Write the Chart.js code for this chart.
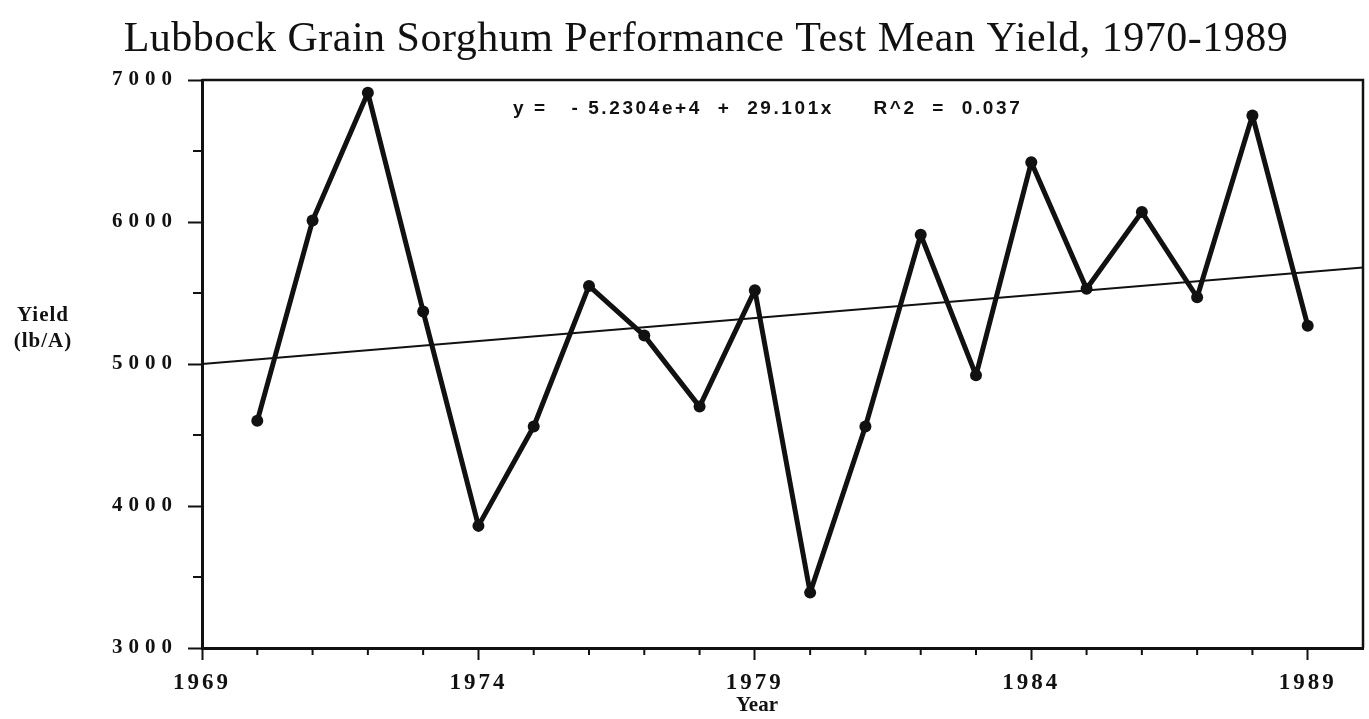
<!DOCTYPE html>
<html>
<head>
<meta charset="utf-8">
<title>Lubbock Grain Sorghum Yield</title>
<script src="https://cdn.jsdelivr.net/npm/chart.js@4.4.0/dist/chart.umd.min.js"></script>
<style>
  html, body { margin: 0; padding: 0; background: #fff; }
  canvas { display: block; }
</style>
</head>
<body>
<canvas id="yieldChart" width="1369" height="719"></canvas>
<script>
// values (lb/A)
const years = [1970, 1971, 1972, 1973, 1974, 1975, 1976, 1977, 1978, 1979,
               1980, 1981, 1982, 1983, 1984, 1985, 1986, 1987, 1988, 1989];
const yields = [4600, 6010, 6910, 5370, 3860, 4560, 5550, 5200, 4700, 5520,
                3390, 4560, 5910, 4920, 6420, 5530, 6070, 5470, 6750, 5270];

// fitted line as drawn, end points at the axis limits
const trendYears = [1969, 1990];
const trendYields = [5000, 5680];

const xTickYears = [1969, 1974, 1979, 1984, 1989];
const yTickValues = [3000, 4000, 5000, 6000, 7000];

const titleText = 'Lubbock Grain Sorghum Performance Test Mean Yield, 1970-1989';
const equationText = 'y =   - 5.2304e+4  +  29.101x     R^2  =  0.037';

const ink = '#111';
const serif = '"Liberation Serif", "Times New Roman", serif';

// canvas letterSpacing for the widely spaced tick numbers
const spacedTicks = {
    id: 'spacedTicks',
    beforeDraw(chart) {
        Object.values(chart.scales).forEach(scale => {
            if (scale._spaced) return;
            const orig = scale.drawLabels.bind(scale);
            const spacing = scale.axis === 'y' ? '6px' : '3px';
            scale.drawLabels = function (area) {
                this.ctx.save();
                this.ctx.letterSpacing = spacing;
                orig(area);
                this.ctx.restore();
            };
            scale._spaced = true;
        });
    }
};

// frame, minor ticks and the loose texts of the figure
const decorations = {
    id: 'decorations',
    afterDraw(chart) {
        const { ctx, chartArea: a, scales: { x, y } } = chart;
        ctx.save();
        ctx.strokeStyle = ink;
        ctx.fillStyle = ink;

        ctx.lineWidth = 2.5;
        ctx.beginPath();
        ctx.moveTo(a.left, a.top);
        ctx.lineTo(a.right, a.top);
        ctx.lineTo(a.right, a.bottom);
        ctx.stroke();

        ctx.lineWidth = 2;
        ctx.beginPath();
        for (let yr = x.min + 1; yr < x.max; yr++) {
            if (xTickYears.includes(yr)) continue;
            const px = x.getPixelForValue(yr);
            ctx.moveTo(px, a.bottom);
            ctx.lineTo(px, a.bottom + 7);
        }
        for (let v = y.min + 500; v < y.max; v += 1000) {
            const py = y.getPixelForValue(v);
            ctx.moveTo(a.left - 9, py);
            ctx.lineTo(a.left, py);
        }
        ctx.stroke();

        ctx.textBaseline = 'middle';
        ctx.textAlign = 'center';
        ctx.font = '42px ' + serif;
        ctx.letterSpacing = '0.5px';
        ctx.fillText(titleText, 706, 40);

        ctx.font = 'bold 21px ' + serif;
        ctx.letterSpacing = '1px';
        ctx.fillText('Yield', 43, 316);
        ctx.fillText('(lb/A)', 43, 342);
        ctx.letterSpacing = '0px';
        ctx.fillText('Year', 757, 706);

        ctx.textAlign = 'left';
        ctx.font = 'bold 19px "Liberation Sans", Arial, sans-serif';
        ctx.letterSpacing = '2.6px';
        ctx.fillText(equationText, 513, 109);
        ctx.restore();
    }
};

new Chart(document.getElementById('yieldChart'), {
    type: 'line',
    data: {
        datasets: [
            {
                label: 'Mean yield',
                data: years.map((yr, i) => ({ x: yr, y: yields[i] })),
                borderColor: ink,
                backgroundColor: ink,
                borderWidth: 5,
                borderJoinStyle: 'round',
                pointRadius: 6,
                pointBorderWidth: 0,
                pointBackgroundColor: ink,
                tension: 0
            },
            {
                label: 'Linear fit',
                data: trendYears.map((yr, i) => ({ x: yr, y: trendYields[i] })),
                borderColor: ink,
                borderWidth: 2,
                pointRadius: 0,
                tension: 0
            }
        ]
    },
    options: {
        responsive: false,
        animation: false,
        layout: { padding: { top: 80, right: 6, left: 0, bottom: 0 } },
        plugins: {
            legend: { display: false },
            tooltip: { enabled: false }
        },
        scales: {
            x: {
                type: 'linear',
                min: 1969,
                max: 1990,
                afterBuildTicks: scale => {
                    scale.ticks = xTickYears.map(v => ({ value: v }));
                },
                afterFit: scale => { scale.height = 71; },
                ticks: {
                    autoSkip: false,
                    maxRotation: 0,
                    padding: 9,
                    color: ink,
                    font: { family: serif, size: 23, weight: 'bold' },
                    callback: v => String(v)
                },
                grid: {
                    drawOnChartArea: false,
                    drawTicks: true,
                    tickLength: 12,
                    tickWidth: 2,
                    tickColor: ink
                },
                border: { color: ink, width: 3 }
            },
            y: {
                min: 3000,
                max: 7000,
                afterBuildTicks: scale => {
                    scale.ticks = yTickValues.map(v => ({ value: v }));
                },
                afterFit: scale => { scale.width = 202; },
                ticks: {
                    padding: 10,
                    color: ink,
                    font: { family: serif, size: 21, weight: 'bold' },
                    callback: v => String(v)
                },
                grid: {
                    drawOnChartArea: false,
                    drawTicks: true,
                    tickLength: 14,
                    tickWidth: 2,
                    tickColor: ink
                },
                border: { color: ink, width: 3 }
            }
        }
    },
    plugins: [spacedTicks, decorations]
});
</script>
</body>
</html>
